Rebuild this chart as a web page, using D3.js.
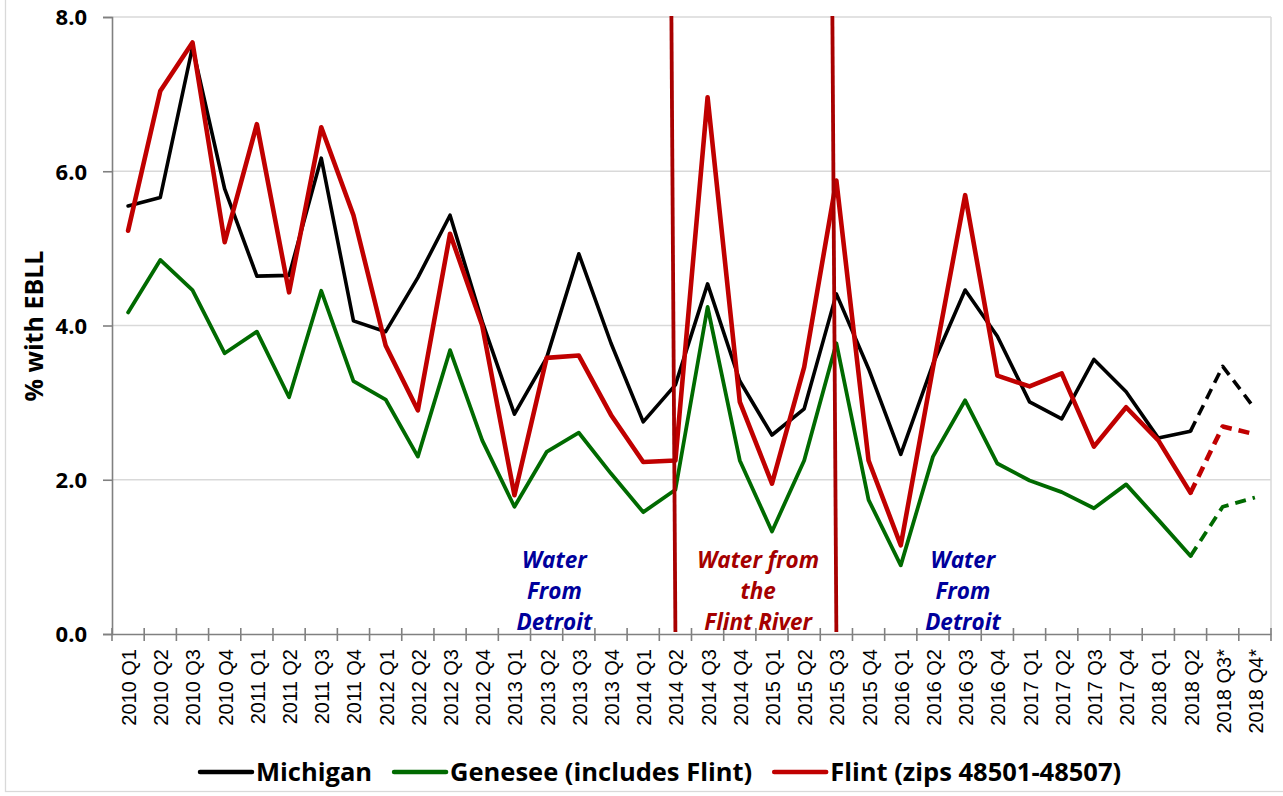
<!DOCTYPE html>
<html><head><meta charset="utf-8">
<script src="https://cdn.jsdelivr.net/npm/d3@7"></script>
<style>
html,body{margin:0;padding:0;background:#fff;}
svg{display:block;}
</style></head>
<body>
<svg id="chart" width="1283" height="796"></svg>
<script>
const quarters = ["2010 Q1","2010 Q2","2010 Q3","2010 Q4","2011 Q1","2011 Q2","2011 Q3","2011 Q4",
"2012 Q1","2012 Q2","2012 Q3","2012 Q4","2013 Q1","2013 Q2","2013 Q3","2013 Q4",
"2014 Q1","2014 Q2","2014 Q3","2014 Q4","2015 Q1","2015 Q2","2015 Q3","2015 Q4",
"2016 Q1","2016 Q2","2016 Q3","2016 Q4","2017 Q1","2017 Q2","2017 Q3","2017 Q4",
"2018 Q1","2018 Q2","2018 Q3*","2018 Q4*"];

const michigan = [5.55,5.66,7.61,5.77,4.64,4.65,6.17,4.06,3.92,4.62,5.43,4.05,2.85,3.58,4.93,3.77,
2.75,3.23,4.54,3.28,2.58,2.92,4.41,3.44,2.33,3.50,4.46,3.86,3.01,2.79,3.56,3.14,2.54,2.63,3.47,2.92];

const genesee = [4.17,4.85,4.46,3.64,3.92,3.07,4.45,3.28,3.04,2.30,3.68,2.51,1.65,2.36,2.61,2.08,
1.58,1.87,4.24,2.25,1.33,2.25,3.77,1.74,0.89,2.30,3.03,2.21,1.99,1.84,1.63,1.94,1.48,1.01,1.65,1.77];

const flint = [5.23,7.04,7.67,5.08,6.61,4.43,6.57,5.43,3.74,2.90,5.19,4.00,1.80,3.58,3.61,2.84,
2.23,2.25,6.96,3.01,1.95,3.46,5.88,2.25,1.15,3.45,5.69,3.35,3.21,3.38,2.43,2.94,2.51,1.83,2.69,2.59];

const yTicks = [0,2,4,6,8];
const projectedFrom = "2018 Q2";           // dashed after this point
const switchEvents = ["2014 Q2","2015 Q3"]; // vertical red lines
const annotations = [
  {lines:["Water","From","Detroit"], from:"2013 Q2", to:"2013 Q3", frac:0.24, color:"#00009C"},
  {lines:["Water from","the","Flint River"], from:"2014 Q4", to:"2015 Q1", frac:0.57, color:"#A50000"},
  {lines:["Water","From","Detroit"], from:"2016 Q2", to:"2016 Q3", frac:0.93, color:"#00009C"}
];
const seriesDefs = [
  {name:"Michigan", values:michigan, color:"#000000", width:3.6},
  {name:"Genesee (includes Flint)", values:genesee, color:"#006A00", width:3.8},
  {name:"Flint (zips 48501-48507)", values:flint, color:"#C00000", width:4.6}
];

const svg = d3.select("#chart");
const W = 1283, H = 796;
const m = {left:112, right:1271, top:17, bottom:634};
const FONT = "'Open Sans', Lato, sans-serif";
const XFONT = "'Liberation Sans', Arial, sans-serif";

// outer chart border
svg.append("rect").attr("x",5.5).attr("y",-2).attr("width",W).attr("height",793.5)
  .attr("fill","none").attr("stroke","#d9d9d9").attr("stroke-width",1.3);

const x = d3.scaleBand().domain(quarters).range([m.left, m.right]).paddingInner(0).paddingOuter(0);
const xc = d => x(d) + x.bandwidth()/2;
const y = d3.scaleLinear().domain([0,8]).range([m.bottom, m.top]);

// gridlines
svg.append("g").selectAll("line").data(yTicks.filter(t=>t>0)).join("line")
  .attr("x1",m.left).attr("x2",m.right).attr("y1",d=>y(d)).attr("y2",d=>y(d))
  .attr("stroke","#d9d9d9").attr("stroke-width",1.5);
// plot right border
svg.append("line").attr("x1",m.right).attr("x2",m.right).attr("y1",m.top).attr("y2",m.bottom)
  .attr("stroke","#d9d9d9").attr("stroke-width",1.5);

// y axis
const yAxis = d3.axisLeft(y).tickValues(yTicks).tickFormat(d3.format(".1f")).tickSize(9).tickPadding(16);
const gy = svg.append("g").attr("transform",`translate(${m.left},0)`).call(yAxis);
gy.select(".domain").attr("stroke","#808080").attr("stroke-width",1.6);
gy.selectAll(".tick line").attr("stroke","#808080").attr("stroke-width",1.6);
gy.selectAll(".tick text").attr("font-family",FONT).attr("font-weight","bold")
  .attr("font-size",22).attr("fill","#000").attr("dy","0.36em");

// x axis
const xAxis = d3.axisBottom(x).tickSize(0).tickPadding(0);
const gx = svg.append("g").attr("transform",`translate(0,${m.bottom})`).call(xAxis);
gx.select(".domain").attr("stroke","#808080").attr("stroke-width",1.6);
gx.selectAll(".tick text").attr("font-family",XFONT).attr("font-size",20).attr("fill","#000")
  .attr("text-anchor","end").attr("dominant-baseline","central")
  .attr("transform","translate(1,15) rotate(-90)").attr("dy",null).attr("y",0).attr("x",0);
// category boundary tick marks crossing the axis
const edges = quarters.map(q=>x(q)).concat([m.right]);
svg.append("g").selectAll("line").data(edges).join("line")
  .attr("x1",d=>d).attr("x2",d=>d).attr("y1",m.bottom-6).attr("y2",m.bottom+7)
  .attr("stroke","#808080").attr("stroke-width",1.6);

// y title
svg.append("text").attr("transform",`translate(43,326) rotate(-90)`)
  .attr("text-anchor","middle").attr("font-family",FONT).attr("font-weight","bold")
  .attr("font-size",25).text("% with EBLL");

// annotations
annotations.forEach(a=>{
  const ax = xc(a.from) + (xc(a.to)-xc(a.from))*a.frac;
  const t = svg.append("text").attr("text-anchor","middle").attr("font-family",FONT)
    .attr("font-weight","bold").attr("font-style","italic").attr("font-size",22.5).attr("fill",a.color);
  a.lines.forEach((l,i)=>t.append("tspan").attr("x",ax).attr("y",568+i*31).text(l));
});

// series lines
const idxProj = quarters.indexOf(projectedFrom);
const line = d3.line().x(d=>xc(d.q)).y(d=>y(d.v));
seriesDefs.forEach(s=>{
  const pts = quarters.map((q,i)=>({q, v:s.values[i]}));
  svg.append("path").datum(pts.slice(0, idxProj+1)).attr("d",line)
    .attr("fill","none").attr("stroke",s.color).attr("stroke-width",s.width)
    .attr("stroke-linejoin","round").attr("stroke-linecap","round");
  svg.append("path").datum(pts.slice(idxProj)).attr("d",line)
    .attr("fill","none").attr("stroke",s.color).attr("stroke-width",s.width)
    .attr("stroke-dasharray","11,7").attr("stroke-linejoin","round");
});

// vertical event lines (slightly slanted as in original)
svg.append("g").selectAll("line").data(switchEvents).join("line")
  .attr("x1",d=>xc(d)-4).attr("y1",m.top-1).attr("x2",d=>xc(d)).attr("y2",m.bottom-2)
  .attr("stroke","#A80000").attr("stroke-width",3.8);

// legend
const legend = svg.append("g").attr("transform","translate(0,772)");
let lx = 200;
seriesDefs.forEach((s,i)=>{
  legend.append("line").attr("x1",lx).attr("x2",lx+52).attr("y1",0).attr("y2",0)
    .attr("stroke",s.color).attr("stroke-width",4.5).attr("stroke-linecap","round");
  const t = legend.append("text").attr("x",lx+56).attr("y",0).attr("dy","0.36em")
    .attr("font-family",FONT).attr("font-weight","bold").attr("font-size",25.5).text(s.name);
  lx = lx + 56 + t.node().getComputedTextLength() + 22;
});
</script>
</body></html>
